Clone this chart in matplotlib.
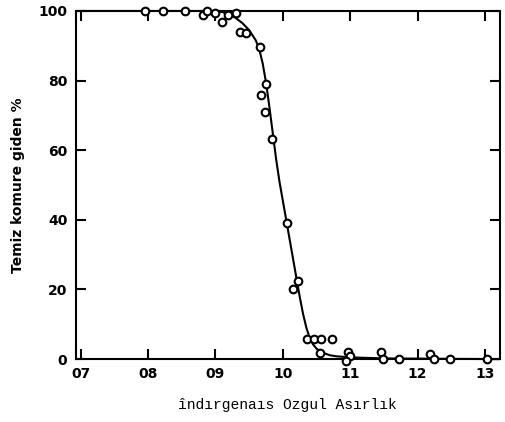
import numpy as np
import matplotlib.pyplot as plt

x_pts = [0.796, 0.822, 0.854, 0.881, 0.887, 0.899, 0.910, 0.919, 0.930, 0.937,
         0.946, 0.966, 0.975, 0.967, 0.973, 0.984, 1.006, 1.022, 1.015, 1.036,
         1.046, 1.057, 1.073, 1.055, 1.097, 1.100, 1.094, 1.146, 1.149, 1.172,
         1.219, 1.224, 1.248, 1.303]
y_pts = [100, 100, 100, 98.8, 100, 99.4, 96.8, 98.8, 99.4, 93.9,
         93.6, 89.6, 78.9, 76.0, 71.1, 63.3, 39.0, 22.5, 20.2, 5.8,
         5.8, 5.8, 5.8, 1.7, 2.0, 0.9, -0.4, 2.0, 0, 0,
         1.4, 0, 0, 0]

# fitted curve
x_fit = [0.70, 0.90, 0.91, 0.92, 0.93, 0.94, 0.95, 0.96, 0.965, 0.97,
         0.975, 0.98, 0.985, 0.99, 0.995, 1.00, 1.005, 1.01, 1.015, 1.02,
         1.025, 1.03, 1.035, 1.04, 1.045, 1.05, 1.06, 1.07, 1.08, 1.10,
         1.15, 1.32]
y_fit = [100, 100, 99.7, 99.0, 98.0, 96.5, 94.5, 91.5, 89.0, 85.0,
         79.5, 72.5, 65.0, 57.5, 51.0, 45.5, 40.0, 34.5, 29.0, 23.5,
         18.0, 13.0, 9.0, 6.0, 4.2, 3.0, 1.8, 1.1, 0.8, 0.5,
         0.2, 0]

x_ticks = [0.7, 0.8, 0.9, 1.0, 1.1, 1.2, 1.3]
x_ticklabels = ['07', '08', '09', '10', '11', '12', '13']
y_ticks = [0, 20, 40, 60, 80, 100]

fig = plt.figure(figsize=(5.05, 4.22), dpi=100)
ax = fig.add_axes([0.150, 0.149, 0.840, 0.825])

ax.plot(x_fit, y_fit, color='black', linewidth=1.5, clip_on=False)
ax.plot(x_pts, y_pts, 'o', markerfacecolor='white', markeredgecolor='black',
        markersize=5.5, markeredgewidth=1.5, clip_on=False, zorder=3)

ax.set_xlim(0.6925, 1.3224)
ax.set_ylim(0, 100)
ax.set_xticks(x_ticks)
ax.set_xticklabels(x_ticklabels, fontweight='bold', fontsize=10)
ax.set_yticks(y_ticks)
ax.set_yticklabels([str(v) for v in y_ticks], fontweight='bold', fontsize=10)
ax.tick_params(direction='in', top=True, right=True, length=7, width=1.5, pad=6)
for s in ax.spines.values():
    s.set_linewidth(1.5)

ax.set_xlabel('îndırgenaıs Ozgul Asırlık', family='Liberation Mono', fontsize=10.5, labelpad=12)
ax.set_ylabel('Temiz komure giden %', fontweight='bold', fontsize=10, labelpad=10)

plt.savefig('out.png', dpi=100)
